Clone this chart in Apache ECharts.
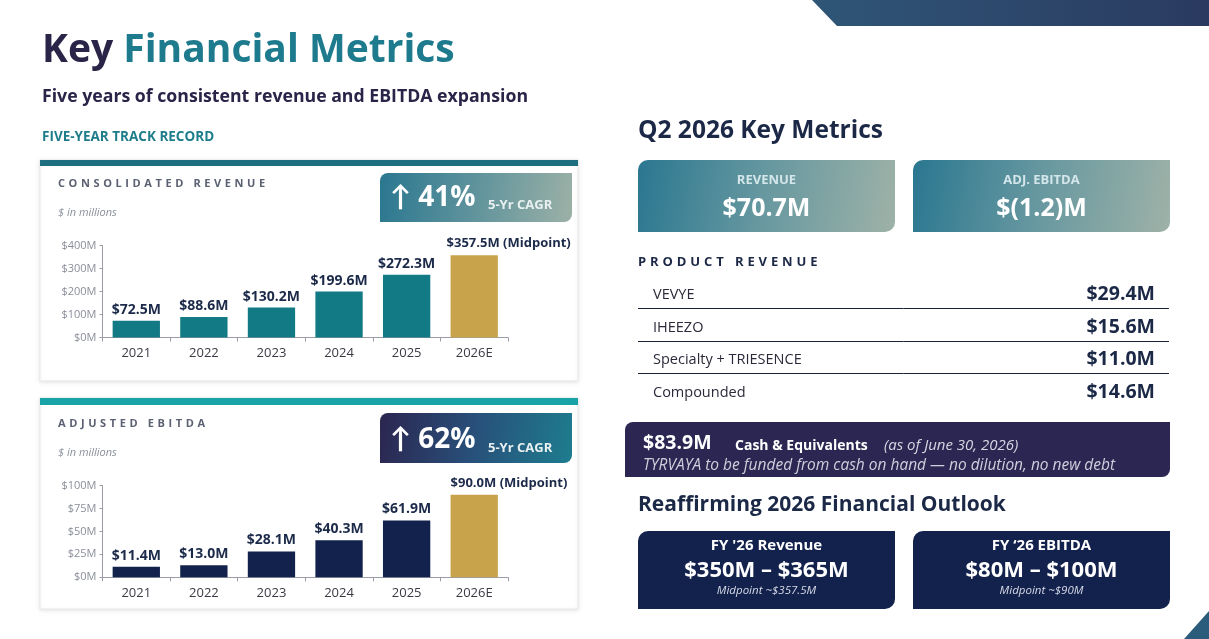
<!DOCTYPE html>
<html><head><meta charset="utf-8">
<script src="https://cdn.jsdelivr.net/npm/echarts@6/dist/echarts.min.js"></script>
<style>
html,body{margin:0;padding:0;background:#fff;overflow:hidden;}
#c{position:absolute;left:0;top:0;width:1209px;height:639px;}
.sp{position:absolute;font-family:"Open Sans",Lato,sans-serif;font-weight:700;white-space:nowrap;line-height:1;}
</style></head><body>
<div id="c"></div>
<div class="sp" style="left:58px;top:177px;font-size:11px;letter-spacing:3.6px;color:#5b6172;">CONSOLIDATED REVENUE</div>
<div class="sp" style="left:58px;top:417px;font-size:11px;letter-spacing:3.6px;color:#5b6172;">ADJUSTED EBITDA</div>
<div class="sp" style="left:638px;top:255px;font-size:13px;letter-spacing:3.9px;color:#1b2846;">PRODUCT REVENUE</div>
<script>
// ---- data ----
const years = ['2021', '2022', '2023', '2024', '2025', '2026E'];
const revenue = [72.5, 88.6, 130.2, 199.6, 272.3, 357.5];
const ebitda = [11.4, 13.0, 28.1, 40.3, 61.9, 90.0];
const revTicks = { min: 0, max: 400, interval: 100 };
const ebitdaTicks = { min: 0, max: 100, interval: 25 };
const revenueCagr = '41%';
const ebitdaCagr = '62%';
const q2Labels = ['REVENUE', 'ADJ. EBITDA'];
const q2Values = ['$70.7M', '$(1.2)M'];
const productNames = ['VEVYE', 'IHEEZO', 'Specialty + TRIESENCE', 'Compounded'];
const productValues = [29.4, 15.6, 11.0, 14.6];
const cashValue = 83.9;
const outlookTitles = ["FY '26 Revenue", 'FY \u201826 EBITDA'];
const outlookRanges = ['$350M \u2013 $365M', '$80M \u2013 $100M'];
const outlookMid = ['Midpoint ~$357.5M', 'Midpoint ~$90M'];

const FONT = '"Open Sans", Lato, sans-serif';
const NAVY = '#1b2846';
const TEAL = '#127a85';
const GOLD = '#c9a34b';
const DARKBAR = '#13214d';

function t(x, y, text, size, color, o) {
  o = o || {};
  return {
    type: 'text', x: x, y: y, z: 20,
    style: {
      text: text, fontSize: size, fill: color, fontFamily: FONT,
      fontWeight: o.w || 'bold', fontStyle: o.i ? 'italic' : 'normal',
      align: o.a || 'left', verticalAlign: 'middle'
    }
  };
}
function grad(c1, c2, c3) {
  const stops = c3 ? [{offset:0,color:c1},{offset:0.5,color:c2},{offset:1,color:c3}]
                   : [{offset:0,color:c1},{offset:1,color:c2}];
  return { type: 'linear', x: 0, y: 0, x2: 1, y2: 0.6, colorStops: stops };
}
function rect(x, y, w, h, fill, r, extra) {
  return Object.assign({
    type: 'rect', z: 1,
    shape: { x: x, y: y, width: w, height: h, r: r || 0 },
    style: { fill: fill }
  }, extra || {});
}

const graphics = [
  // decorations
  { type: 'polygon', z: 1, shape: { points: [[812,0],[1209,0],[1209,26],[837,26]] },
    style: { fill: { type:'linear', x:0,y:0,x2:1,y2:0, colorStops:[{offset:0,color:'#2f5677'},{offset:1,color:'#2a3a60'}] } } },
  { type: 'polygon', z: 1, shape: { points: [[1184,639],[1209,611],[1209,639]] }, style: { fill: '#2c5c7b' } },
  // title
  { type: 'text', x: 42, y: 51, z: 20, style: { text: '{a|Key }{b|Financial Metrics}', verticalAlign: 'middle',
    rich: { a: { fontSize: 39, fontWeight: 'bold', fill: '#2a2548', fontFamily: FONT },
            b: { fontSize: 39, fontWeight: 'bold', fill: '#1e7b8e', fontFamily: FONT } } } },
  t(42, 97, 'Five years of consistent revenue and EBITDA expansion', 17.7, '#2a2548'),
  t(42, 137, 'FIVE-YEAR TRACK RECORD', 13.5, '#1e7d8a'),
  // revenue card
  rect(40, 160, 538, 221, '#fff', 0, { style: { fill: '#fff', stroke: '#e7e9ed', lineWidth: 1, shadowBlur: 4, shadowColor: 'rgba(0,0,0,0.10)', shadowOffsetY: 1 } }),
  rect(40, 160, 538, 6, '#1d6f80', 0, { z: 2 }),
  t(58, 213, '$ in millions', 11, '#8a8f9a', { w: 'normal', i: true }),
  rect(380, 173, 192, 49, grad('#2a7790', '#5f939c', '#9ab0a6'), [8,0,8,0], { z: 3 }),
  t(390, 198, '\u2191 ' + revenueCagr, 28, '#ffffff'),
  t(488, 205, '5-Yr CAGR', 13, '#e8f0f0'),
  // ebitda card
  rect(40, 398, 538, 211, '#fff', 0, { style: { fill: '#fff', stroke: '#e7e9ed', lineWidth: 1, shadowBlur: 4, shadowColor: 'rgba(0,0,0,0.10)', shadowOffsetY: 1 } }),
  rect(40, 398, 538, 7, '#18a3a7', 0, { z: 2 }),
  t(58, 453, '$ in millions', 11, '#8a8f9a', { w: 'normal', i: true }),
  rect(380, 413, 192, 50, grad('#2b2650', '#28507a', '#1e7b8e'), [8,0,8,0], { z: 3 }),
  t(390, 440, '\u2191 ' + ebitdaCagr, 28, '#ffffff'),
  t(488, 448, '5-Yr CAGR', 13, '#e8f0f0'),
  // right side
  t(638, 131, 'Q2 2026 Key Metrics', 24.5, NAVY),
  rect(638, 160, 257, 72, grad('#2a7790', '#6798a0', '#9cb1a7'), [10,0,10,0]),
  rect(913, 160, 257, 72, grad('#2a7790', '#6798a0', '#9cb1a7'), [10,0,10,0]),
  t(766.5, 180, q2Labels[0], 13, '#d3e6ea', { a: 'center' }),
  t(766.5, 209, q2Values[0], 25, '#ffffff', { a: 'center' }),
  t(1041.5, 180, q2Labels[1], 13, '#d3e6ea', { a: 'center' }),
  t(1041.5, 209, q2Values[1], 25, '#ffffff', { a: 'center' })
];
const rowY = [293, 326, 358, 391];
productNames.forEach(function (n, i) {
  graphics.push(t(653, rowY[i] + 1.5, n, 14.5, '#2a2a3a', { w: 'normal' }));
  graphics.push(t(1155, rowY[i] + 1.5, '$' + productValues[i].toFixed(1) + 'M', 19.5, NAVY, { a: 'right' }));
  if (i < 3) graphics.push({ type: 'line', z: 5, shape: { x1: 638, y1: rowY[i] + 15.5, x2: 1169, y2: rowY[i] + 15.5 }, style: { stroke: '#1b2238', lineWidth: 1 } });
});
graphics.push(
  rect(625, 422, 545, 55, '#2b2752', [8,0,8,0]),
  t(643, 443, '$' + cashValue.toFixed(1) + 'M', 19.5, '#ffffff'),
  t(735, 446, 'Cash & Equivalents', 14, '#ffffff'),
  t(884, 446, '(as of June 30, 2026)', 15, '#d6d6e2', { w: 'normal', i: true }),
  t(643, 465.5, 'TYRVAYA to be funded from cash on hand \u2014 no dilution, no new debt', 15.5, '#cfcfdc', { w: 'normal', i: true }),
  t(638, 505, 'Reaffirming 2026 Financial Outlook', 21, NAVY),
  rect(638, 531, 257, 78, DARKBAR, [10,0,10,0]),
  rect(913, 531, 257, 78, DARKBAR, [10,0,10,0]),
  t(766.5, 545.5, outlookTitles[0], 15, '#ffffff', { a: 'center' }),
  t(766.5, 570.5, outlookRanges[0], 22, '#ffffff', { a: 'center' }),
  t(766.5, 591, outlookMid[0], 11.5, '#d6d9e6', { a: 'center', w: 'normal', i: true }),
  t(1041.5, 545.5, outlookTitles[1], 15, '#ffffff', { a: 'center' }),
  t(1041.5, 570.5, outlookRanges[1], 22, '#ffffff', { a: 'center' }),
  t(1041.5, 591, outlookMid[1], 11.5, '#d6d9e6', { a: 'center', w: 'normal', i: true })
);

function xAxis(gi) {
  return {
    type: 'category', gridIndex: gi, data: years, z: 8,
    axisLine: { lineStyle: { color: '#9a9da5', width: 1 } },
    axisTick: { show: true, length: 4, lineStyle: { color: '#9a9da5' } },
    axisLabel: { color: '#3a3a44', fontSize: 13, fontFamily: FONT, margin: 9 }
  };
}
function yAxis(gi, tk) {
  return {
    type: 'value', gridIndex: gi, min: tk.min, max: tk.max, interval: tk.interval, z: 8,
    axisLine: { show: true, lineStyle: { color: '#9a9da5', width: 1 } },
    axisTick: { show: true, length: 3, lineStyle: { color: '#9a9da5' } },
    splitLine: { show: false },
    axisLabel: { color: '#8a8e99', fontSize: 11, fontFamily: FONT, margin: 6, formatter: function (v) { return '$' + v + 'M'; } }
  };
}
function barSeries(gi, vals, color) {
  return {
    type: 'bar', xAxisIndex: gi, yAxisIndex: gi, barWidth: '70%', z: 10,
    data: vals.map(function (v, i) {
      const last = i === vals.length - 1;
      return {
        value: v,
        itemStyle: { color: last ? GOLD : color },
        label: last ? { position: [gi === 0 ? -4 : 0, -5], align: 'left', verticalAlign: 'bottom' } : {}
      };
    }),
    label: {
      show: true, position: 'top', distance: 4, color: '#1c2a4a', fontSize: 14, fontWeight: 'bold', fontFamily: FONT,
      formatter: function (p) { return '$' + p.value.toFixed(1) + 'M' + (p.dataIndex === vals.length - 1 ? ' (Midpoint)' : ''); },
      rich: {}
    }
  };
}

const chart = echarts.init(document.getElementById('c'), null, { renderer: 'canvas' });
const s0 = barSeries(0, revenue, TEAL), s1 = barSeries(1, ebitda, DARKBAR);
s0.data[5].label.fontSize = 13; s1.data[5].label.fontSize = 13;
chart.setOption({
  animation: false,
  backgroundColor: '#ffffff',
  grid: [
    { left: 102.5, top: 245.5, width: 405.5, height: 92, z: 8 },
    { left: 102.5, top: 485.5, width: 405.5, height: 91.8, z: 8 }
  ],
  xAxis: [xAxis(0), xAxis(1)],
  yAxis: [yAxis(0, revTicks), yAxis(1, ebitdaTicks)],
  series: [s0, s1],
  graphic: graphics
});
</script>
</body></html>
